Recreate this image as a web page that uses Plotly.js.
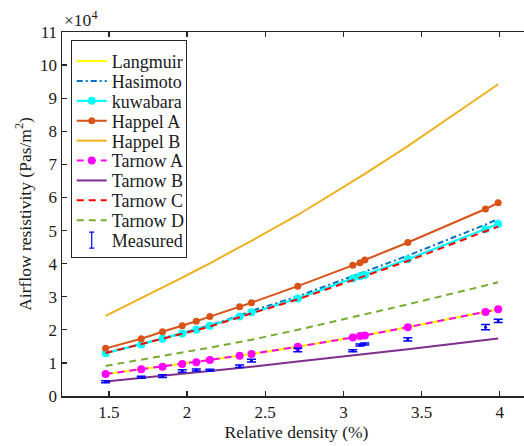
<!DOCTYPE html>
<html>
<head>
<meta charset="utf-8">
<script src="https://cdn.plot.ly/plotly-3.0.1.min.js"></script>
<style>
  html, body { margin: 0; padding: 0; overflow: hidden; background: #fff; }
  #chart { width: 545px; height: 446px; }
</style>
</head>
<body>
<div id="chart"></div>
<script>
// Relative density of the samples (%)
const density = [1.479, 1.707, 1.843, 1.969, 2.059, 2.146, 2.336, 2.412, 2.708,
                 3.060, 3.106, 3.137, 3.412, 3.909, 3.990];

// Airflow resistivity predicted by each model (Pa·s/m²)
const langmuir = [6650, 8100, 8850, 9670, 10200, 10900, 12200, 12700, 14900,
                  17700, 18100, 18300, 20800, 25400, 26200];
const hasimoto = [12900, 15600, 17400, 19000, 20200, 21400, 24300, 25700, 30100,
                  36300, 37100, 37500, 42400, 51800, 53500];
const kuwabara = [12900, 15600, 17300, 18900, 20000, 21200, 24000, 25300, 29500,
                  35500, 36200, 36600, 41300, 50400, 52000];
const happelA = [14400, 17300, 19400, 21200, 22600, 24000, 27000, 28200, 33200,
                 39500, 40300, 41100, 46400, 56500, 58400];
const happelB = [24200, 29500, 32800, 35800, 38000, 40100, 45000, 46900, 54700,
                 64800, 66200, 67100, 75500, 91500, 94200];
const tarnowA = [6650, 8100, 8850, 9670, 10200, 10900, 12200, 12700, 14900,
                 17700, 18100, 18300, 20800, 25400, 26200];
const tarnowB = [4400, 5450, 6100, 6700, 7100, 7500, 8450, 8850, 10400,
                 12200, 12450, 12600, 14100, 16900, 17400];
const tarnowC = [13000, 15600, 17300, 18800, 19900, 21000, 23800, 25000, 29200,
                 35100, 35800, 36200, 40800, 49800, 51200];
const tarnowD = [9100, 10900, 12100, 13100, 13900, 14600, 16300, 17000, 20000,
                 23800, 24300, 24600, 27700, 33400, 34400];

// Measured resistivity and its spread (Pa·s/m²)
const measured = [4300, 5650, 6000, 7550, 7850, 7760, 9000, 10700, 13900,
                  13700, 15400, 15700, 17100, 20800, 22700];
const measuredErr = [300, 300, 400, 400, 300, 300, 400, 400, 500,
                     300, 300, 300, 500, 800, 500];

// Tick labels of the resistivity axis, shown in units of 10^4
const yTickVals = [0, 10000, 20000, 30000, 40000, 50000, 60000, 70000, 80000,
                   90000, 100000, 110000];
const yTickText = ['0', '1', '2', '3', '4', '5', '6', '7', '8', '9', '10', '11'];
const xTickVals = [1.5, 2, 2.5, 3, 3.5, 4];
const xTickText = ['1.5', '2', '2.5', '3', '3.5', '4'];

const serif = 'Liberation Serif, Times New Roman, serif';
const axisColor = '#262626';
const textColor = '#1a1a1a';
const labelSize = 17;
const titleSize = 17.5;

function line(name, y, color, opts) {
  opts = opts || {};
  return {
    type: 'scatter',
    name: name,
    x: density,
    y: y,
    mode: opts.markers ? 'lines+markers' : 'lines',
    line: { color: color, width: opts.width || 2, dash: opts.dash || 'solid' },
    marker: { color: color, size: opts.markerSize || 7 }
  };
}

const traces = [
  line('Langmuir', langmuir, '#FFFF00', { width: 2.2 }),
  line('Hasimoto', hasimoto, '#0072BD', { dash: '6px,3px,2px,3px' }),
  line('kuwabara', kuwabara, '#00FFFF', { markers: true, markerSize: 8, width: 2.2 }),
  line('Happel A', happelA, '#D95319', { markers: true, markerSize: 7 }),
  line('Happel B', happelB, '#EDB120', {}),
  line('Tarnow A', tarnowA, '#FF00FF', { markers: true, markerSize: 8, dash: '7px,5px' }),
  line('Tarnow B', tarnowB, '#7E2F8E', {}),
  line('Tarnow C', tarnowC, '#FF0000', { dash: '7px,5px' }),
  line('Tarnow D', tarnowD, '#77AC30', { dash: '7px,5px' }),
  {
    type: 'scatter',
    name: 'Measured',
    x: density,
    y: measured,
    mode: 'markers',
    marker: { color: '#0000FF', size: 3 },
    error_y: { type: 'data', array: measuredErr, visible: true,
               color: '#0000FF', thickness: 1.5, width: 4.5 }
  }
];

const layout = {
  width: 545,
  height: 446,
  margin: { l: 62, r: 14, t: 32, b: 50 },
  paper_bgcolor: '#fff',
  plot_bgcolor: '#fff',
  showlegend: true,
  font: { family: serif, size: labelSize, color: textColor },
  xaxis: {
    range: [1.2, 4.2],
    tickvals: xTickVals,
    ticktext: xTickText,
    ticks: 'inside',
    ticklen: 5,
    tickwidth: 1.2,
    tickcolor: axisColor,
    showline: true,
    linecolor: axisColor,
    linewidth: 1.5,
    mirror: 'ticks',
    showgrid: false,
    zeroline: false,
    tickfont: { family: serif, size: labelSize, color: textColor },
    title: { text: 'Relative density (%)', font: { family: serif, size: titleSize, color: textColor }, standoff: 4 }
  },
  yaxis: {
    range: [0, 110000],
    tickvals: yTickVals,
    ticktext: yTickText,
    ticks: 'inside',
    ticklen: 5,
    tickwidth: 1.2,
    tickcolor: axisColor,
    showline: true,
    linecolor: axisColor,
    linewidth: 1.5,
    mirror: 'ticks',
    showgrid: false,
    zeroline: false,
    tickfont: { family: serif, size: labelSize, color: textColor },
    title: { text: 'Airflow resistivity (Pas/m<sup>2</sup>)', font: { family: serif, size: titleSize, color: textColor }, standoff: 4 }
  },
  legend: {
    x: 0.0186,
    y: 0.964,
    xanchor: 'left',
    yanchor: 'top',
    bgcolor: '#fff',
    bordercolor: axisColor,
    borderwidth: 1,
    // compact row spacing; the labels are enlarged after drawing
    font: { family: serif, size: 13, color: textColor },
    itemwidth: 30
  },
  annotations: [{
    xref: 'paper', yref: 'paper',
    x: 0, y: 1, xanchor: 'left', yanchor: 'bottom',
    yshift: 0,
    text: '×10<sup>4</sup>',
    showarrow: false,
    font: { family: serif, size: titleSize, color: textColor }
  }]
};

const gd = document.getElementById('chart');
Plotly.newPlot(gd, traces, layout, { displayModeBar: false, staticPlot: true }).then(function () {
  const legend = gd.querySelector('g.legend');
  if (!legend) return;
  // Let the enlarged labels show in full
  legend.querySelectorAll('[clip-path]').forEach(function (el) {
    el.removeAttribute('clip-path');
  });
  legend.querySelectorAll('.legendtext').forEach(function (t) {
    t.style.fontSize = '18px';
    t.setAttribute('y', parseFloat(t.getAttribute('y') || 0) + 1.8);
  });
  // Legend frame
  legend.querySelectorAll('rect.bg').forEach(function (bg) {
    bg.setAttribute('y', -5);
    bg.setAttribute('width', 115);
    bg.setAttribute('height', 217);
  });
  // Error-bar glyph for the measured series
  const items = legend.querySelectorAll('g.traces');
  const last = items[items.length - 1];
  if (last) {
    last.querySelectorAll('path.scatterpts, path.point').forEach(function (p) {
      p.setAttribute('d', 'M0,-8V8M-2.5,-8H2.5M-2.5,8H2.5');
      p.style.fill = 'none';
      p.style.stroke = '#0000FF';
      p.style.strokeWidth = '1.2px';
      p.style.strokeOpacity = '1';
    });
  }
});
</script>
</body>
</html>
